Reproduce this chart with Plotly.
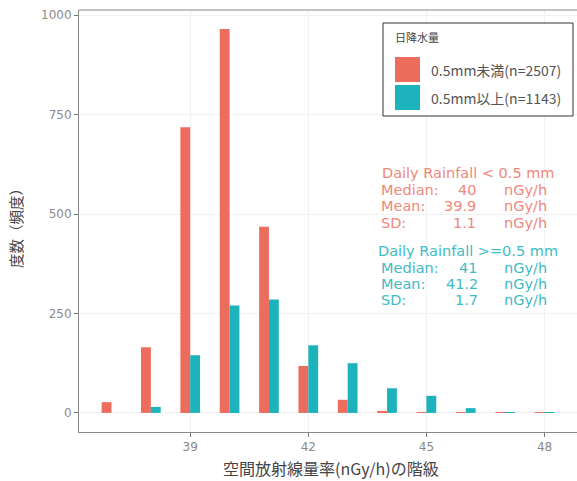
import plotly.graph_objects as go

bins = [37, 38, 39, 40, 41, 42, 43, 44, 45, 46, 47, 48]
below_05 = [27, 165, 718, 965, 468, 118, 33, 5, 2, 1, 1, 1]
above_05 = [0, 15, 145, 270, 285, 170, 125, 62, 43, 12, 1, 1]
series_names = ["0.5mm未満(n=2507)", "0.5mm以上(n=1143)"]
legend_title = "日降水量"
x_ticks = [39, 42, 45, 48]
y_ticks = [0, 250, 500, 750, 1000]
stats_below = [("Median:", "40", "nGy/h"), ("Mean:", "39.9", "nGy/h"), ("SD:", "1.1", "nGy/h")]
stats_above = [("Median:", "41", "nGy/h"), ("Mean:", "41.2", "nGy/h"), ("SD:", "1.7", "nGy/h")]
head_below = "Daily Rainfall < 0.5 mm"
head_above = "Daily Rainfall >=0.5 mm"
x_title = "空間放射線量率(nGy/h)の階級"
y_title = "度数（頻度）"

RED = "#EC6C5E"
TEAL = "#1DB3BC"
RED_TXT = "#F0877B"
TEAL_TXT = "#3FBCC4"

W, H = 577, 481
L, R, T, B = 79, 0, 10, 49
PW, PH = W - L - R, H - T - B

def px(x):
    return (x - L) / PW

def py(y):
    return (H - B - y) / PH

fig = go.Figure()
fig.add_bar(x=bins, y=below_05, name=series_names[0], marker_color=RED, marker_line_width=0)
fig.add_bar(x=bins, y=above_05, name=series_names[1], marker_color=TEAL, marker_line_width=0)

FONT = "DejaVu Sans, sans-serif"
JFONT = "Noto Sans CJK JP, sans-serif"

ann = []
shapes = []

# legend drawn manually
shapes.append(dict(type="rect", xref="paper", yref="paper", x0=px(383), x1=px(573), y0=py(116), y1=py(23),
                   line=dict(color="#333333", width=1), fillcolor="white", layer="above"))
shapes.append(dict(type="rect", xref="paper", yref="paper", x0=px(395), x1=px(420), y0=py(82), y1=py(57),
                   line=dict(width=0), fillcolor=RED, layer="above"))
shapes.append(dict(type="rect", xref="paper", yref="paper", x0=px(395), x1=px(420), y0=py(110), y1=py(85),
                   line=dict(width=0), fillcolor=TEAL, layer="above"))
ann.append(dict(text=legend_title, x=px(393), y=py(37), xref="paper", yref="paper", xanchor="left",
                yanchor="middle", showarrow=False, font=dict(family=JFONT, size=11, color="#444")))
ann.append(dict(text=series_names[0], x=px(429), y=py(70), xref="paper", yref="paper", xanchor="left",
                yanchor="middle", showarrow=False, font=dict(family=JFONT, size=14, color="#555")))
ann.append(dict(text=series_names[1], x=px(429), y=py(98), xref="paper", yref="paper", xanchor="left",
                yanchor="middle", showarrow=False, font=dict(family=JFONT, size=14, color="#555")))

# axis titles
ann.append(dict(text=x_title, x=px(331), y=py(468), xref="paper", yref="paper", xanchor="center",
                yanchor="middle", showarrow=False, font=dict(family=JFONT, size=16, color="#444")))
ann.append(dict(text=y_title, x=px(15), y=py(225), xref="paper", yref="paper", xanchor="center",
                yanchor="middle", showarrow=False, textangle=-90, font=dict(family=JFONT, size=14.5, color="#444")))

FS = 14.5
SP = 16.5
def block(head, rows, color, y0, head_x, val_pos):
    ann.append(dict(text=head, x=px(head_x), y=py(y0), xref="paper", yref="paper", xanchor="center",
                    yanchor="middle", showarrow=False, font=dict(family=FONT, size=FS, color=color)))
    for i, (lab, val, unit) in enumerate(rows):
        yy = py(y0 + SP * (i + 1))
        ann.append(dict(text=lab, x=px(379), y=yy, xref="paper", yref="paper", xanchor="left",
                        yanchor="middle", showarrow=False, font=dict(family=FONT, size=FS, color=color)))
        vx, anchor = val_pos[i]
        ann.append(dict(text=val, x=px(vx), y=yy, xref="paper", yref="paper", xanchor=anchor,
                        yanchor="middle", showarrow=False, font=dict(family=FONT, size=FS, color=color)))
        ann.append(dict(text=unit, x=px(525), y=yy, xref="paper", yref="paper", xanchor="center",
                        yanchor="middle", showarrow=False, font=dict(family=FONT, size=FS, color=color)))

block(head_below, stats_below, RED_TXT, 173, 468, [(456, "left"), (478, "right"), (478, "right")])
block(head_above, stats_above, TEAL_TXT, 251, 468, [(457, "left"), (480, "right"), (480, "right")])

fig.update_layout(
    width=W, height=H,
    margin=dict(l=L, r=R, t=T, b=B, autoexpand=False),
    paper_bgcolor="white", plot_bgcolor="white",
    barmode="group", bargap=0.5, bargroupgap=0,
    showlegend=False,
    annotations=ann, shapes=shapes,
    xaxis=dict(range=[36.175, 48.825], tickvals=x_ticks, ticks="outside", ticklen=4, tickcolor="#777",
               showline=True, linecolor="#8a8a8a", linewidth=1, mirror=False,
               showgrid=True, gridcolor="#f1f1f1", zeroline=False,
               tickfont=dict(family=FONT, size=12, color="#8a8a8a")),
    yaxis=dict(range=[-48, 1013], tickvals=y_ticks, ticks="outside", ticklen=4, tickcolor="#777",
               showline=True, linecolor="#8a8a8a", linewidth=1, mirror=False,
               showgrid=True, gridcolor="#f1f1f1", zeroline=False,
               tickfont=dict(family=FONT, size=12, color="#8a8a8a")),
)
# top border of panel
fig.add_shape(type="line", xref="paper", yref="paper", x0=0, x1=1, y0=1, y1=1,
              line=dict(color="#8a8a8a", width=1))

fig.write_html("out.html", config={"displayModeBar": False},
               post_script="document.body.style.margin='0px';")
